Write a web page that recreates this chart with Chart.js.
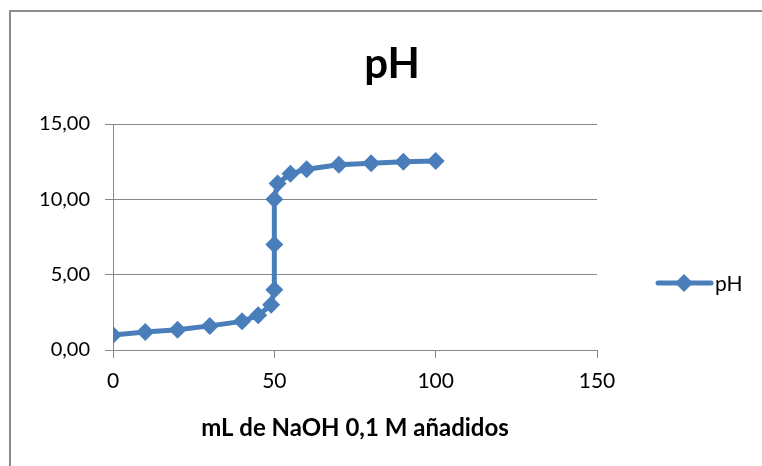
<!DOCTYPE html>
<html>
<head>
<meta charset="utf-8">
<script src="https://cdn.jsdelivr.net/npm/chart.js@4/dist/chart.umd.min.js"></script>
<style>
  body { margin: 0; background: #fff; overflow: hidden; }
  canvas { display: block; }
</style>
</head>
<body>
<canvas id="grafico" width="762" height="466"></canvas>
<script>
// Datos de la valoración
var volumenNaOH = [0, 10, 20, 30, 40, 45, 49, 50, 50, 50, 51, 55, 60, 70, 80, 90, 100];
var valoresPH = [1.0, 1.2, 1.35, 1.6, 1.9, 2.3, 3.0, 4.0, 7.0, 10.0, 11.05, 11.7, 12.0, 12.3, 12.4, 12.5, 12.55];
var ticksX = [0, 50, 100, 150];
var ticksY = [0, 5, 10, 15];
var tituloGrafico = 'pH';
var tituloEjeX = 'mL de NaOH 0,1 M añadidos';
var nombreSerie = 'pH';

var colorSerie = '#4a7ebb';
var colorGris = '#868686';
var fuente = 'Lato, "Open Sans", sans-serif';

var puntos = volumenNaOH.map(function (v, i) { return { x: v, y: valoresPH[i] }; });

// Marco del gráfico
var marcoPlugin = {
    id: 'marco',
    beforeDraw: function (chart) {
        var ctx = chart.ctx;
        ctx.save();
        ctx.strokeStyle = '#8c8c8c';
        ctx.lineWidth = 2;
        ctx.beginPath();
        ctx.moveTo(10, 470);
        ctx.lineTo(10, 11);
        ctx.lineTo(770, 11);
        ctx.stroke();
        ctx.restore();
    }
};

// Título, título del eje X y leyenda a la derecha
var textosPlugin = {
    id: 'textosExtra',
    afterDraw: function (chart) {
        var ctx = chart.ctx;
        var area = chart.chartArea;
        ctx.save();
        ctx.fillStyle = '#000';
        ctx.textAlign = 'center';
        ctx.textBaseline = 'middle';
        ctx.font = 'bold 42px ' + fuente;
        ctx.fillText(tituloGrafico, 392, 64);
        ctx.font = 'bold 24px ' + fuente;
        ctx.fillText(tituloEjeX, (area.left + area.right) / 2, 428);

        // leyenda
        var y = 283;
        ctx.strokeStyle = colorSerie;
        ctx.lineWidth = 5;
        ctx.lineCap = 'round';
        ctx.beginPath();
        ctx.moveTo(658, y);
        ctx.lineTo(711, y);
        ctx.stroke();
        ctx.fillStyle = colorSerie;
        ctx.beginPath();
        ctx.moveTo(684, y - 9);
        ctx.lineTo(693, y);
        ctx.lineTo(684, y + 9);
        ctx.lineTo(675, y);
        ctx.closePath();
        ctx.fill();
        ctx.fillStyle = '#000';
        ctx.font = '21px ' + fuente;
        ctx.textAlign = 'left';
        ctx.fillText(nombreSerie, 715, y + 1);
        ctx.restore();
    }
};

document.addEventListener('DOMContentLoaded', function () {
    var ctx = document.getElementById('grafico').getContext('2d');
    new Chart(ctx, {
        type: 'scatter',
        data: {
            datasets: [{
                label: nombreSerie,
                data: puntos,
                showLine: true,
                borderColor: colorSerie,
                backgroundColor: colorSerie,
                borderWidth: 5,
                pointStyle: 'rectRot',
                pointRadius: 9,
                pointBorderWidth: 0,
                tension: 0
            }]
        },
        options: {
            responsive: false,
            animation: false,
            devicePixelRatio: 1,
            layout: { padding: { left: 20, right: 165, top: 124, bottom: 0 } },
            plugins: {
                legend: { display: false },
                tooltip: { enabled: false },
                title: { display: false }
            },
            scales: {
                x: {
                    type: 'linear',
                    min: 0,
                    max: 150,
                    afterBuildTicks: function (scale) {
                        scale.ticks = ticksX.map(function (v) { return { value: v }; });
                    },
                    afterFit: function (scale) { scale.height = 116; },
                    ticks: {
                        color: '#000',
                        font: { family: fuente, size: 21 },
                        padding: 11,
                        maxRotation: 0
                    },
                    grid: { drawOnChartArea: false, drawTicks: true, tickLength: 8, color: colorGris },
                    border: { display: true, color: colorGris, width: 1 }
                },
                y: {
                    min: 0,
                    max: 15,
                    afterBuildTicks: function (scale) {
                        scale.ticks = ticksY.map(function (v) { return { value: v }; });
                    },
                    afterFit: function (scale) { scale.width = 93; },
                    ticks: {
                        color: '#000',
                        font: { family: fuente, size: 20 },
                        padding: 15,
                        callback: function (v) { return v.toFixed(2).replace('.', ','); }
                    },
                    grid: { color: colorGris, tickLength: 8, lineWidth: 1 },
                    border: { display: true, color: colorGris, width: 1 }
                }
            }
        },
        plugins: [marcoPlugin, textosPlugin]
    });
});
</script>
</body>
</html>
